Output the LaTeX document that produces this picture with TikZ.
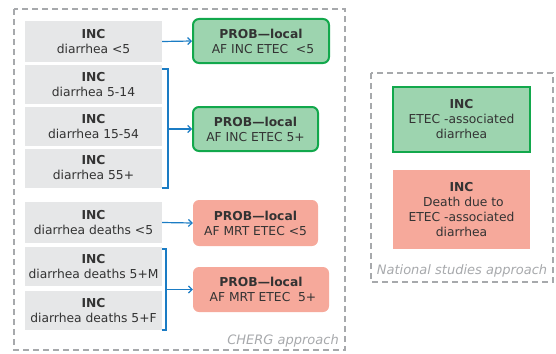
\documentclass[tikz,border=0pt]{standalone}
\usepackage{fontspec}
\setmainfont{DejaVu Sans}
\usetikzlibrary{arrows.meta}
\definecolor{boxgray}{HTML}{E6E7E8}
\definecolor{incgreen}{HTML}{9DD4AF}
\definecolor{edgegreen}{HTML}{12A84C}
\definecolor{mrtred}{HTML}{F6A99B}
\definecolor{linkblue}{HTML}{1B7CC4}
\definecolor{txtgray}{HTML}{333333}
\definecolor{dashgray}{HTML}{A7A9AC}
\tikzset{
  base/.style={align=center, text=txtgray, font=\fontsize{12.3}{15}\selectfont, inner sep=0pt},
  graybox/.style={base, fill=boxgray, minimum width=137pt},
  greenbox/.style={base, fill=incgreen, draw=edgegreen, line width=2pt, rounded corners=6pt},
  redbox/.style={base, fill=mrtred, rounded corners=6pt},
  frame/.style={draw=dashgray, line width=1.2pt, dash pattern=on 6pt off 4pt},
  framelabel/.style={text=dashgray, font=\itshape\fontsize{13}{15}\selectfont, inner sep=0pt},
  link/.style={draw=linkblue, line width=1.2pt, -{Straight Barb[length=3.5pt,width=7pt]}},
  brace/.style={draw=linkblue, line width=1.2pt},
}
\begin{document}
\begin{tikzpicture}[x=1pt,y=-1pt]
\useasboundingbox (0,0) rectangle (556,353);

% approach frames
\draw[frame] (14,9) rectangle (345,350);
\node[framelabel, anchor=east] (cherg) at (339,341) {CHERG approach};
\draw[frame] (371,73) rectangle (553,282);
\node[framelabel] (natl) at (462,271) {National studies approach};

% incidence inputs
\node[graybox, minimum height=41pt] (g1) at (93.5,41.5) {\textbf{INC}\\diarrhea <5};
\node[graybox, minimum height=39pt] (g2) at (93.5,84.5) {\textbf{INC}\\diarrhea 5-14};
\node[graybox, minimum height=39pt] (g3) at (93.5,126.5) {\textbf{INC}\\diarrhea 15-54};
\node[graybox, minimum height=39pt] (g4) at (93.5,168) {\textbf{INC}\\diarrhea 55+};
\node[graybox, minimum height=41pt] (g5) at (93.5,222.5) {\textbf{INC}\\diarrhea deaths <5};
\node[graybox, minimum height=39pt] (g6) at (93.5,266.5) {\textbf{INC}\\diarrhea deaths 5+M};
\node[graybox, minimum height=39pt] (g7) at (93.5,310.5) {\textbf{INC}\\diarrhea deaths 5+F};

% attributable fractions
\node[greenbox, minimum width=136pt, minimum height=44pt] (p1) at (261,41) {\textbf{PROB---local}\\\ AF INC ETEC\ \ <5};
\node[greenbox, minimum width=125pt, minimum height=44pt] (p2) at (255.5,129) {\textbf{PROB---local}\\AF INC ETEC 5+};
\node[redbox, minimum width=125pt, minimum height=46pt] (p3) at (255.5,223) {\textbf{PROB---local}\\AF MRT ETEC <5};
\node[redbox, minimum width=136pt, minimum height=45pt] (p4) at (261,289.5) {\textbf{PROB---local}\\\ AF MRT ETEC\ \ 5+};

% national studies
\node[base, fill=incgreen, draw=edgegreen, line width=2pt, minimum width=137pt, minimum height=65pt] (n1) at (461.5,119.5) {\textbf{INC}\\ETEC -associated\\diarrhea};
\node[base, fill=mrtred, minimum width=137pt, minimum height=79pt] (n2) at (461.5,209.5) {\textbf{INC}\\\ Death due to\\ETEC -associated\\diarrhea};

% connectors
\draw[link] (g1.east) -- (p1.west);
\coordinate (b1t) at (162,69);
\coordinate (b1b) at (162,188);
\coordinate (b1m) at (168,129);
\draw[brace] (b1t) -- (168,69) -- (168,188) -- (b1b);
\draw[link] (b1m) -- (p2.west);

\draw[link] (g5.east) -- (p3.west);
\coordinate (b2t) at (162,249);
\coordinate (b2b) at (162,330);
\coordinate (b2m) at (166,289.5);
\draw[brace] (b2t) -- (166,249) -- (166,330) -- (b2b);
\draw[link] (b2m) -- (p4.west);
\end{tikzpicture}
\end{document}
